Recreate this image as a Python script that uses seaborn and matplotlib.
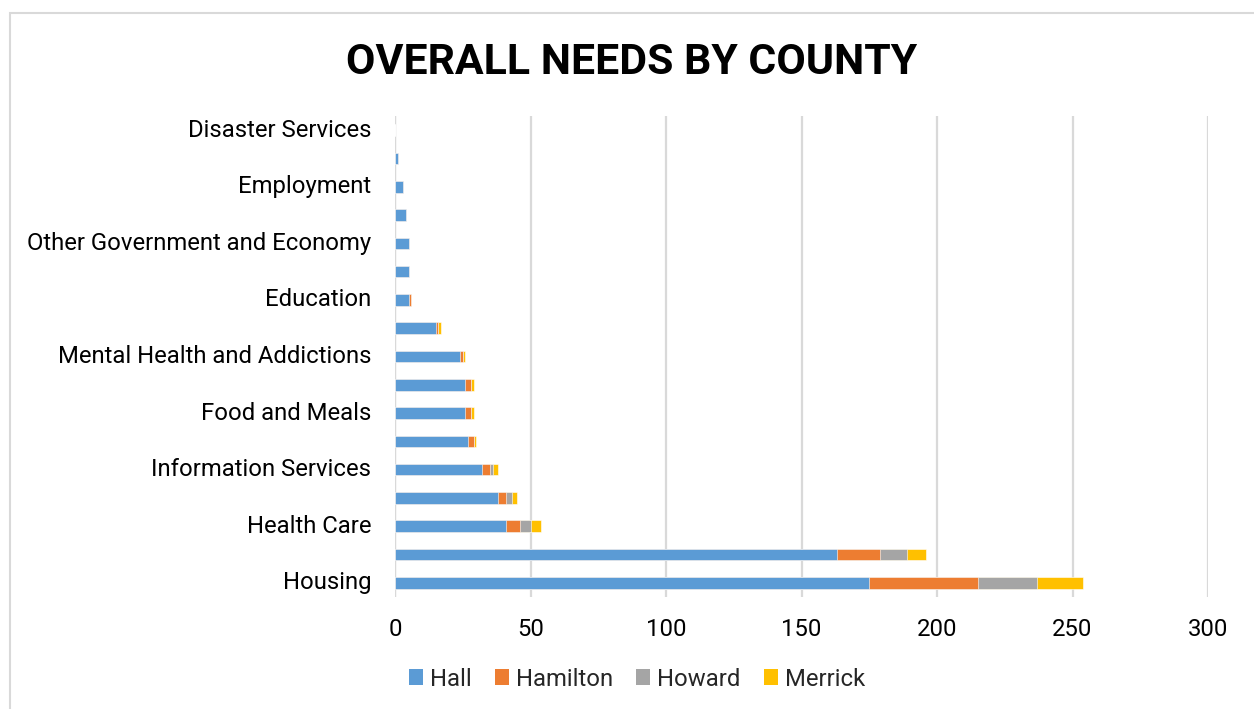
import matplotlib
matplotlib.use("Agg")
import matplotlib.pyplot as plt
from matplotlib.patches import Patch, Rectangle
from matplotlib.transforms import ScaledTranslation
import seaborn as sns
import pandas as pd
import numpy as np

# Need categories, listed top to bottom
categories = [
    "Disaster Services",
    "Volunteers and Donations",
    "Employment",
    "Arts, Culture and Recreation",
    "Other Government and Economy",
    "Transportation",
    "Education",
    "Clothing and Household",
    "Mental Health and Addictions",
    "Legal, Consumer and Public Safety",
    "Food and Meals",
    "Income Support and Assistance",
    "Information Services",
    "Individual, Family and Community Support",
    "Health Care",
    "Utilities",
    "Housing",
]
shown_labels = [c if i % 2 == 0 else "" for i, c in enumerate(categories)]

counties = ["Hall", "Hamilton", "Howard", "Merrick"]
hall     = [0, 1, 3, 4, 5, 5, 5, 15, 24, 26, 26, 27, 32, 38, 41, 163, 175]
hamilton = [0, 0, 0, 0, 0, 0, 1, 1, 1, 2, 2, 2, 3, 3, 5, 16, 40]
howard   = [0, 0, 0, 0, 0, 0, 0, 0, 0, 0, 0, 0, 1, 2, 4, 10, 22]
merrick  = [0, 0, 0, 0, 0, 0, 0, 1, 1, 1, 1, 1, 2, 2, 4, 7, 17]
colors = ["#5B9BD5", "#ED7D31", "#A5A5A5", "#FFC000"]
x_ticks = [0, 50, 100, 150, 200, 250, 300]

df = pd.DataFrame({"category": categories, "Hall": hall, "Hamilton": hamilton,
                   "Howard": howard, "Merrick": merrick})
stack = df[counties].cumsum(axis=1)

sns.set_theme(style="white")
plt.rcParams["font.family"] = ["Roboto", "DejaVu Sans"]

W, H = 1254, 709
fig = plt.figure(figsize=(W / 100, H / 100), dpi=100)
ax = fig.add_axes([395 / W, 1 - 597 / H, (1208 - 395) / W, (597 - 116) / H])

# stacked bars: draw cumulative totals from the outermost layer inward
for county, color in reversed(list(zip(counties, colors))):
    sns.barplot(x=stack[county], y=df["category"], order=categories,
                color=color, orient="h", width=0.41, ax=ax,
                saturation=1, edgecolor="white", linewidth=0.4, zorder=3)

ax.set_xlim(0, 300)
ax.set_ylim(16.5, -0.5)
ax.set_xticks(x_ticks)
ax.set_xticklabels([str(t) for t in x_ticks])
ax.set_yticks(range(len(categories)))
ax.set_yticklabels(shown_labels)
ax.set_xlabel("")
ax.set_ylabel("")
ax.grid(axis="x", color="#D9D9D9", linewidth=1.6, zorder=0)
ax.grid(axis="y", visible=False)
for s in ax.spines.values():
    s.set_visible(False)
ax.axvline(0, color="#D9D9D9", linewidth=1.6, zorder=1)
ax.tick_params(axis="y", length=0, pad=17, labelsize=17.2, labelcolor="#000000")
ax.tick_params(axis="x", length=0, pad=15, labelsize=17.2, labelcolor="#000000")

# nudge category labels up slightly so they sit centred on their bars
shift = ScaledTranslation(0, 2.5 / 100, fig.dpi_scale_trans)
for lbl in ax.get_yticklabels():
    lbl.set_transform(lbl.get_transform() + shift)

fig.text(632 / W, 1 - 74 / H, "OVERALL NEEDS BY COUNTY", ha="center",
         va="baseline", fontsize=30.8, fontweight="bold", color="#000000")

handles = [Patch(facecolor=c, edgecolor="none", label=n) for n, c in zip(counties, colors)]
fig.legend(handles=handles, loc="center", bbox_to_anchor=(637 / W, 1 - 679 / H),
           ncol=4, frameon=False, fontsize=17.2, handlelength=0.6, handleheight=0.6,
           handletextpad=0.3, columnspacing=0.95)

# chart frame
fig.patches.append(Rectangle((9.5 / W, -0.2), 1.5, 1.2 - 12.5 / H,
                             transform=fig.transFigure, fill=False,
                             edgecolor="#D9D9D9", linewidth=1.5))

fig.savefig("out.png", dpi=100, facecolor="white")
